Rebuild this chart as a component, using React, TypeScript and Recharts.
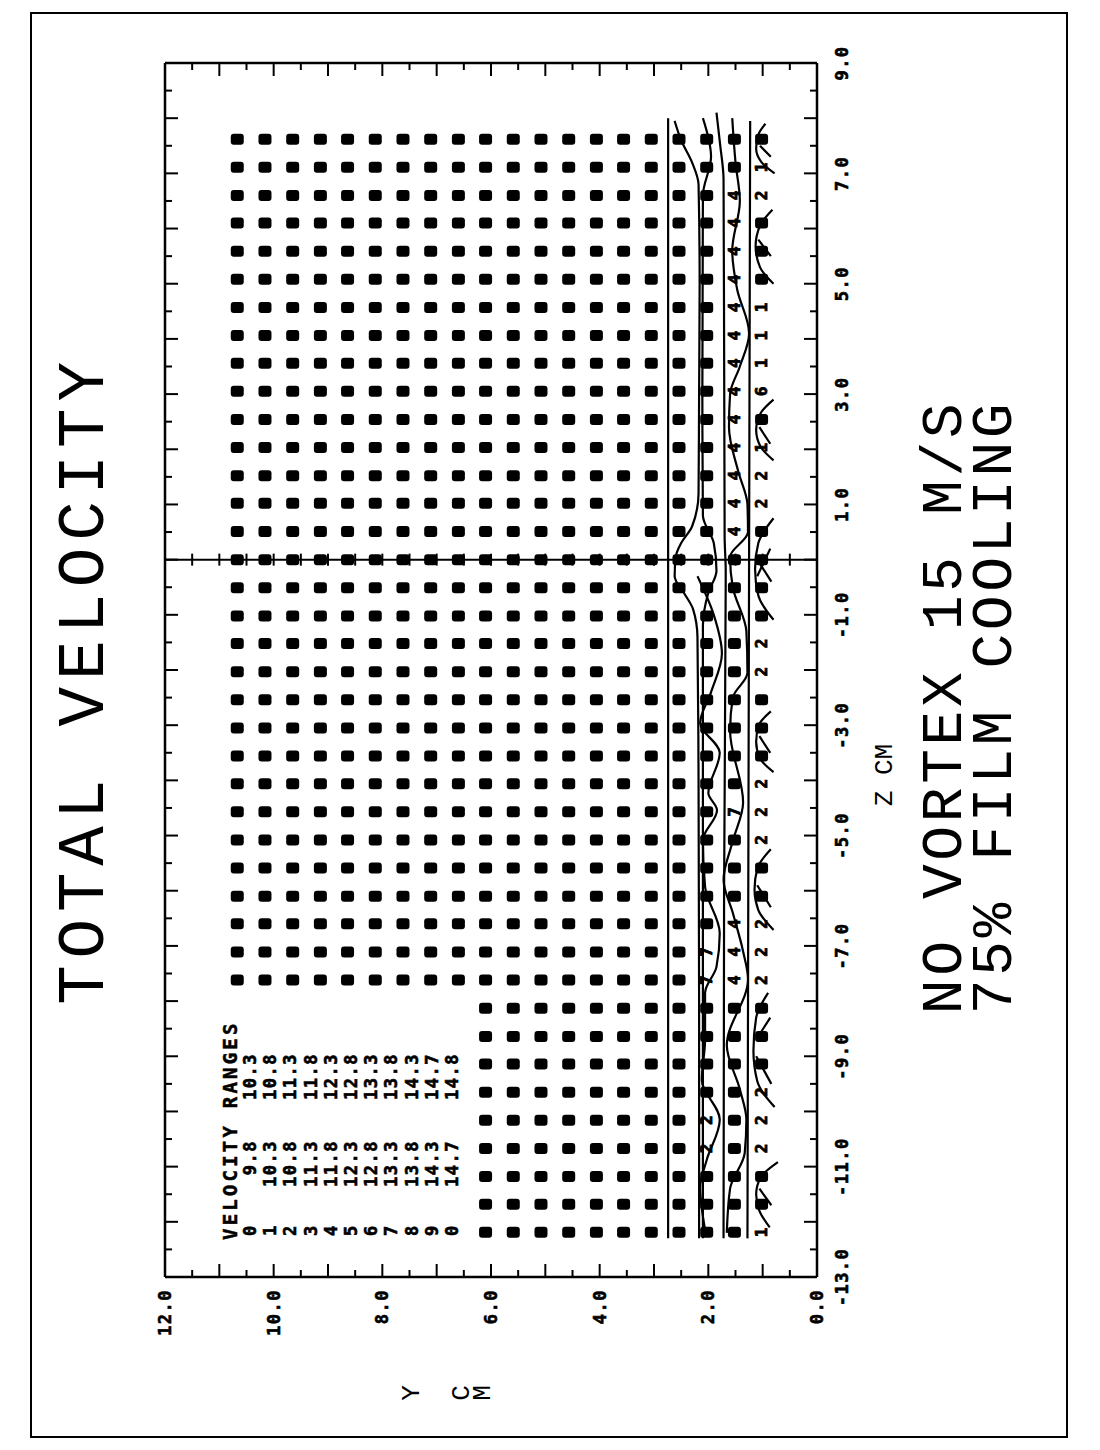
import React from 'react';
import { ScatterChart, Scatter, XAxis, YAxis, ReferenceLine } from 'recharts';

// chart is drawn landscape and turned a quarter turn, like the original plot
const W = 1450;
const H = 1100;

const zTicks = [-13, -12.5, -12, -11.5, -11, -10.5, -10, -9.5, -9, -8.5, -8, -7.5, -7, -6.5, -6, -5.5, -5, -4.5, -4, -3.5, -3, -2.5, -2, -1.5, -1, -0.5, 0, 0.5, 1, 1.5, 2, 2.5, 3, 3.5, 4, 4.5, 5, 5.5, 6, 6.5, 7, 7.5, 8, 8.5, 9];
const yTicks = [0, 0.5, 1, 1.5, 2, 2.5, 3, 3.5, 4, 4.5, 5, 5.5, 6, 6.5, 7, 7.5, 8, 8.5, 9, 9.5, 10, 10.5, 11, 11.5, 12];
const crossTickY = [0.5, 1, 1.5, 2, 2.5, 3, 3.5, 4, 4.5, 5, 5.5, 6, 6.5, 7, 7.5, 8, 8.5, 9, 9.5, 10, 10.5, 11, 11.5];

// measurement grid (cm)
const zRows = [7.62, 7.11, 6.6, 6.1, 5.59, 5.08, 4.57, 4.06, 3.56, 3.05, 2.54, 2.03, 1.52, 1.02, 0.51, 0, -0.51, -1.02, -1.52, -2.03, -2.54, -3.05, -3.56, -4.06, -4.57, -5.08, -5.59, -6.1, -6.6, -7.11, -7.62, -8.13, -8.64, -9.14, -9.65, -10.16, -10.67, -11.18, -11.68, -12.19];
const yCols = [10.67, 10.16, 9.65, 9.14, 8.64, 8.13, 7.62, 7.11, 6.6, 6.1, 5.59, 5.08, 4.57, 4.06, 3.56, 3.05, 2.54, 2.03, 1.52, 1.02];
const rowMaxY = [10.67, 10.67, 10.67, 10.67, 10.67, 10.67, 10.67, 10.67, 10.67, 10.67, 10.67, 10.67, 10.67, 10.67, 10.67, 10.67, 10.67, 10.67, 10.67, 10.67, 10.67, 10.67, 10.67, 10.67, 10.67, 10.67, 10.67, 10.67, 10.67, 10.67, 10.67, 6.1, 6.1, 6.1, 6.1, 6.1, 6.1, 6.1, 6.1, 6.1];
// velocity range symbol at Y = 2.03, 1.52, 1.02 for each row ('0' = filled block)
const wallSymbols = ['000', '001', '042', '040', '040', '040', '041', '041', '041', '046', '040', '041', '042', '042', '040', '000', '000', '000', '002', '002', '000', '000', '000', '002', '072', '002', '000', '000', '042', '742', '742', '000', '000', '000', '002', '202', '202', '000', '000', '001'];

const legendSymbols = ['0', '1', '2', '3', '4', '5', '6', '7', '8', '9', '0'];
const rangeLow = [9.8, 10.3, 10.8, 11.3, 11.8, 12.3, 12.8, 13.3, 13.8, 14.3, 14.7];
const rangeHigh = [10.3, 10.8, 11.3, 11.8, 12.3, 12.8, 13.3, 13.8, 14.3, 14.7, 14.8];

// contour traces (z, y)
const lineA = [{ z: 8.0, y: 2.74 }, { z: -12.3, y: 2.74 }];
const lineB = [{ z: 7.95, y: 2.62 }, { z: 7.6, y: 2.5 }, { z: 7.2, y: 2.3 }, { z: 6.8, y: 2.18 }, { z: 5, y: 2.16 }, { z: 3, y: 2.17 }, { z: 1.2, y: 2.18 }, { z: 0.6, y: 2.3 }, { z: 0.3, y: 2.5 }, { z: 0.05, y: 2.6 }, { z: -0.3, y: 2.62 }, { z: -0.6, y: 2.45 }, { z: -0.9, y: 2.28 }, { z: -1.4, y: 2.2 }, { z: -4, y: 2.18 }, { z: -8, y: 2.17 }, { z: -12.3, y: 2.17 }];
const lineB2 = [{ z: 8.0, y: 2.1 }, { z: 7.3, y: 1.95 }, { z: 6.6, y: 2.1 }, { z: 3, y: 2.11 }, { z: 0.8, y: 2.1 }, { z: 0.3, y: 1.9 }, { z: -0.2, y: 1.85 }, { z: -0.6, y: 2.0 }, { z: -1.2, y: 2.1 }, { z: -6, y: 2.1 }, { z: -12.3, y: 2.1 }];
const lineC = [{ z: 8.1, y: 1.85 }, { z: 7.5, y: 1.78 }, { z: 6.9, y: 1.72 }, { z: 0.4, y: 1.7 }, { z: -0.2, y: 1.68 }, { z: -6, y: 1.71 }, { z: -12.3, y: 1.72 }];
const lineD = [{ z: 7.95, y: 1.23 }, { z: 0, y: 1.25 }, { z: -12.3, y: 1.28 }];
const waveE = [{ z: -0.3, y: 2.2 }, { z: -1.0, y: 1.9 }, { z: -1.7, y: 1.75 }, { z: -2.4, y: 1.95 }, { z: -2.96, y: 2.15 }, { z: -3.5, y: 1.79 }, { z: -4.23, y: 2.0 }, { z: -4.54, y: 1.84 }, { z: -5.08, y: 2.1 }, { z: -5.93, y: 2.06 }, { z: -6.77, y: 1.79 }, { z: -7.38, y: 1.85 }, { z: -7.85, y: 2.06 }, { z: -8.7, y: 2.06 }, { z: -9.43, y: 2.12 }, { z: -10.15, y: 1.79 }, { z: -10.88, y: 2.03 }, { z: -11.37, y: 2.15 }, { z: -12.2, y: 2.05 }];
const waveF = [{ z: 8.0, y: 1.56 }, { z: 7.2, y: 1.5 }, { z: 6.5, y: 1.42 }, { z: 5.6, y: 1.56 }, { z: 4.9, y: 1.47 }, { z: 4.1, y: 1.25 }, { z: 3.5, y: 1.42 }, { z: 3.0, y: 1.6 }, { z: 2.4, y: 1.62 }, { z: 1.6, y: 1.45 }, { z: 1.0, y: 1.28 }, { z: 0.5, y: 1.27 }, { z: 0.05, y: 1.6 }, { z: -0.5, y: 1.55 }, { z: -1.3, y: 1.3 }, { z: -2.05, y: 1.28 }, { z: -2.5, y: 1.55 }, { z: -3.1, y: 1.6 }, { z: -4.4, y: 1.36 }, { z: -5.1, y: 1.55 }, { z: -5.8, y: 1.72 }, { z: -6.4, y: 1.55 }, { z: -7.1, y: 1.36 }, { z: -7.6, y: 1.27 }, { z: -8.8, y: 1.66 }, { z: -9.6, y: 1.42 }, { z: -10.15, y: 1.3 }, { z: -10.75, y: 1.33 }, { z: -11.4, y: 1.6 }, { z: -12.2, y: 1.66 }];
const arc1 = [{ z: 7.9, y: 0.95 }, { z: 7.7, y: 1.08 }, { z: 7.45, y: 1.12 }, { z: 7.2, y: 1.02 }, { z: 7.0, y: 0.78 }];
const arc2 = [{ z: 6.34, y: 0.82 }, { z: 6.05, y: 1.05 }, { z: 5.68, y: 1.13 }, { z: 5.3, y: 1.05 }, { z: 5.0, y: 0.8 }];
const arc3 = [{ z: 2.9, y: 0.8 }, { z: 2.65, y: 1.04 }, { z: 2.35, y: 1.12 }, { z: 2.05, y: 1.04 }, { z: 1.8, y: 0.8 }];
const arc4 = [{ z: 0.75, y: 0.8 }, { z: 0.3, y: 1.08 }, { z: -0.17, y: 1.14 }, { z: -0.65, y: 1.08 }, { z: -1.09, y: 0.8 }];
const arc5 = [{ z: -2.75, y: 0.85 }, { z: -3.0, y: 1.07 }, { z: -3.3, y: 1.12 }, { z: -3.6, y: 1.05 }, { z: -3.85, y: 0.8 }];
const arc6 = [{ z: -5.25, y: 0.85 }, { z: -5.6, y: 1.1 }, { z: -5.98, y: 1.15 }, { z: -6.35, y: 1.08 }, { z: -6.71, y: 0.8 }];
const arc7 = [{ z: -7.85, y: 0.9 }, { z: -8.3, y: 1.12 }, { z: -8.9, y: 1.17 }, { z: -9.45, y: 1.1 }, { z: -9.92, y: 0.78 }];
const arc8 = [{ z: -10.92, y: 0.72 }, { z: -11.2, y: 1.04 }, { z: -11.5, y: 1.12 }, { z: -11.8, y: 1.06 }, { z: -12.1, y: 0.87 }];
const fans = [
  [{ z: 7.5, y: 1.05 }, { z: 7.3, y: 0.85 }],
  [{ z: 5.8, y: 1.08 }, { z: 5.5, y: 0.85 }],
  [{ z: 2.4, y: 1.06 }, { z: 2.1, y: 0.86 }],
  [{ z: 0.0, y: 1.1 }, { z: -0.4, y: 0.84 }],
  [{ z: -0.3, y: 1.1 }, { z: 0.2, y: 0.86 }],
  [{ z: -3.2, y: 1.06 }, { z: -3.5, y: 0.86 }],
  [{ z: -5.9, y: 1.1 }, { z: -6.3, y: 0.85 }],
  [{ z: -8.7, y: 1.12 }, { z: -8.3, y: 0.86 }],
  [{ z: -9.0, y: 1.12 }, { z: -9.5, y: 0.84 }],
  [{ z: -11.4, y: 1.06 }, { z: -11.7, y: 0.84 }],
];
const contours = [lineA, lineB, lineB2, lineC, lineD, waveE, waveF, arc1, arc2, arc3, arc4, arc5, arc6, arc7, arc8, ...fans];

const points: { z: number; y: number; s: string }[] = [];
zRows.forEach((z, r) => {
  yCols.forEach((y, c) => {
    if (y > rowMaxY[r] + 0.01) return;
    const w = c - (yCols.length - 3);
    const s = w >= 0 ? wallSymbols[r][w] : '0';
    points.push({ z, y, s });
  });
});
const crossTicks = crossTickY.map((y) => ({ z: 0, y }));

const boldFont = "'DejaVu Sans Mono', monospace";
const plotFont = "'Liberation Mono', monospace";

const renderPoint = (p: any) => {
  const { cx, cy, payload } = p;
  if (payload.s === '0') {
    return <rect x={cx - 5.5} y={cy - 6.5} width={11} height={13} rx={3} fill="#000" />;
  }
  return (
    <text x={cx} y={cy} textAnchor="middle" dominantBaseline="central" fontFamily={boldFont} fontWeight="bold" fontSize={16} stroke="#000" strokeWidth={0.8} fill="#000">
      {payload.s}
    </text>
  );
};
const renderCross = (p: any) => (
  <line x1={p.cx - 6} y1={p.cy} x2={p.cx + 6} y2={p.cy} stroke="#000" strokeWidth={2} />
);
const renderNothing = () => <g />;

const labelProps = { fontFamily: boldFont, fontWeight: 'bold', fontSize: 17, letterSpacing: 1.5, stroke: '#000', strokeWidth: 0.6, fill: '#000' };

const ZTick = (p: any) => {
  const v = p.payload.value;
  const len = Number.isInteger(v) ? 13 : 7;
  const dir = p.side === 'bottom' ? -1 : 1;
  return (
    <g>
      <line x1={p.x} y1={p.y} x2={p.x} y2={p.y + dir * len} stroke="#000" strokeWidth={2} />
      {p.side === 'bottom' && Math.abs(v % 2) === 1 && (
        <text x={p.x} y={p.y + 25} textAnchor="middle" dominantBaseline="central" {...labelProps}>
          {v.toFixed(1)}
        </text>
      )}
    </g>
  );
};

const YTick = (p: any) => {
  const v = p.payload.value;
  const len = Number.isInteger(v) ? 13 : 7;
  const dir = p.side === 'left' ? 1 : -1;
  return (
    <g>
      <line x1={p.x} y1={p.y} x2={p.x + dir * len} y2={p.y} stroke="#000" strokeWidth={2} />
      {p.side === 'left' && v % 2 === 0 && (
        <text x={p.x - 12} y={p.y} textAnchor="end" dominantBaseline="central" {...labelProps}>
          {v.toFixed(1)}
        </text>
      )}
    </g>
  );
};

const axisLine = { stroke: '#000', strokeWidth: 2.5 };

export default function App() {
  return (
    <div style={{ position: 'absolute', left: 0, top: 0, width: 1100, height: 1450, background: '#fff', overflow: 'hidden' }}>
      <div style={{ position: 'absolute', left: 30, top: 12, width: 1038, height: 1426, border: '2px solid #000', boxSizing: 'border-box' }} />
      <div style={{ position: 'absolute', left: 0, top: 0, width: W, height: H, transformOrigin: '0 0', transform: `translate(0px, ${W}px) rotate(-90deg)` }}>
        <ScatterChart width={W} height={H} margin={{ top: 145, right: 43, bottom: 243, left: 113 }}>
          <XAxis xAxisId="b" type="number" dataKey="z" domain={[-13, 9]} ticks={zTicks} interval={0} orientation="bottom" height={40} axisLine={axisLine} tickLine={false} tickSize={0} tickMargin={0} allowDataOverflow tick={(p: any) => <ZTick {...p} side="bottom" />} />
          <XAxis xAxisId="t" type="number" dataKey="z" domain={[-13, 9]} ticks={zTicks} interval={0} orientation="top" height={20} axisLine={axisLine} tickLine={false} tickSize={0} tickMargin={0} allowDataOverflow tick={(p: any) => <ZTick {...p} side="top" />} />
          <YAxis yAxisId="l" type="number" dataKey="y" domain={[0, 12]} ticks={yTicks} interval={0} orientation="left" width={60} axisLine={axisLine} tickLine={false} tickSize={0} tickMargin={0} allowDataOverflow tick={(p: any) => <YTick {...p} side="left" />} />
          <YAxis yAxisId="r" type="number" dataKey="y" domain={[0, 12]} ticks={yTicks} interval={0} orientation="right" width={20} axisLine={axisLine} tickLine={false} tickSize={0} tickMargin={0} allowDataOverflow tick={(p: any) => <YTick {...p} side="right" />} />
          <ReferenceLine xAxisId="b" yAxisId="l" x={0} stroke="#000" strokeWidth={2} />
          <Scatter xAxisId="t" yAxisId="r" data={crossTicks} shape={renderCross} isAnimationActive={false} />
          <Scatter xAxisId="b" yAxisId="l" data={points} shape={renderPoint} isAnimationActive={false} />
          {contours.map((c, i) => (
            <Scatter key={i} xAxisId="b" yAxisId="l" data={c} line={{ stroke: '#000', strokeWidth: 2.2 }} lineJointType="monotoneX" shape={renderNothing} isAnimationActive={false} />
          ))}
        </ScatterChart>
        <svg width={W} height={H} style={{ position: 'absolute', left: 0, top: 0, pointerEvents: 'none' }}>
          <text x={770} y={85} textAnchor="middle" dominantBaseline="central" fontFamily={plotFont} fontSize={66} letterSpacing={6.8} fill="#000">
            TOTAL VELOCITY
          </text>
          <text x={675} y={885} textAnchor="middle" dominantBaseline="central" fontFamily={plotFont} fontSize={26} fill="#000">
            Z  CM
          </text>
          <text x={743} y={945} textAnchor="middle" dominantBaseline="central" fontFamily={plotFont} fontSize={58} letterSpacing={3.6} fill="#000">
            NO VORTEX 15 M/S
          </text>
          <text x={743} y={995} textAnchor="middle" dominantBaseline="central" fontFamily={plotFont} fontSize={58} letterSpacing={3.6} fill="#000">
            75% FILM COOLING
          </text>
          {['Y', 'C', 'M'].map((ch, i) => (
            <text key={ch} x={57} y={[412, 462, 483][i]} textAnchor="middle" dominantBaseline="central" fontFamily={plotFont} fontSize={26} fill="#000">
              {ch}
            </text>
          ))}
          <text x={210} y={230} dominantBaseline="central" fontFamily={boldFont} fontWeight="bold" fontSize={19} letterSpacing={3.2} stroke="#000" strokeWidth={0.5} fill="#000">
            VELOCITY RANGES
          </text>
          {legendSymbols.map((s, i) => (
            <g key={i} {...labelProps}>
              <text x={220} y={250 + 20.2 * i} textAnchor="middle" dominantBaseline="central">{s}</text>
              <text x={310} y={250 + 20.2 * i} textAnchor="end" dominantBaseline="central">{rangeLow[i].toFixed(1)}</text>
              <text x={397} y={250 + 20.2 * i} textAnchor="end" dominantBaseline="central">{rangeHigh[i].toFixed(1)}</text>
            </g>
          ))}
        </svg>
      </div>
    </div>
  );
}
